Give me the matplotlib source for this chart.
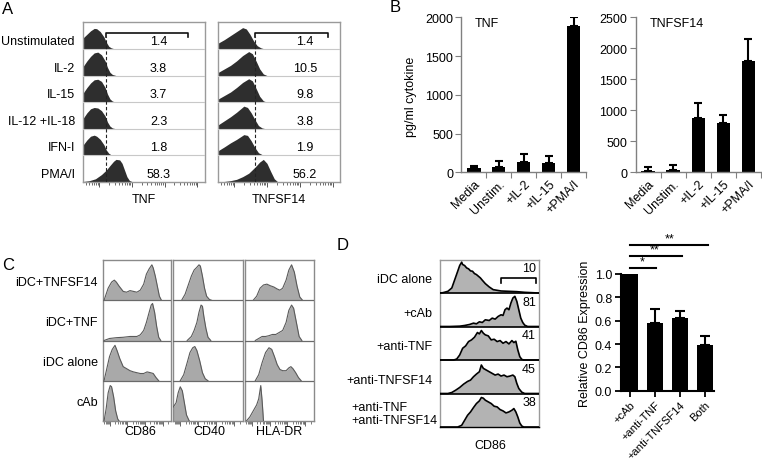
import matplotlib
matplotlib.use('Agg')
import matplotlib.pyplot as plt
import numpy as np

plt.rcParams['font.family'] = ['Liberation Sans', 'DejaVu Sans']

# ---------------- DATA ----------------
# Panel A
a_rows = ['Unstimulated', 'IL-2', 'IL-15', 'IL-12 +IL-18', 'IFN-I', 'PMA/I']
a_tnf_pct = ['1.4', '3.8', '3.7', '2.3', '1.8', '58.3']
a_lig_pct = ['1.4', '10.5', '9.8', '3.8', '1.9', '56.2']
a_tnf_x = [
    [0, .03, .06, .09, .11, .14, .17, .19, .21, .23, .26],
    [0, .03, .06, .09, .12, .15, .18, .20, .22, .24, .27],
    [0, .03, .06, .09, .12, .15, .18, .20, .22, .24, .27],
    [0, .03, .06, .09, .12, .15, .18, .20, .22, .24, .27],
    [0, .03, .06, .09, .11, .14, .17, .19, .21, .23, .26],
    [0, .05, .10, .15, .19, .22, .25, .27, .30, .32, .34, .36, .38, .41],
]
a_tnf_y = [
    [.42, .55, .68, .77, .76, .65, .45, .25, .10, .04, 0],
    [.35, .55, .72, .85, .88, .78, .55, .30, .12, .04, 0],
    [.35, .55, .72, .84, .86, .78, .55, .30, .12, .04, 0],
    [.40, .60, .75, .80, .78, .68, .48, .25, .10, .03, 0],
    [.40, .58, .72, .76, .72, .60, .40, .20, .08, .02, 0],
    [.02, .05, .12, .28, .45, .62, .78, .85, .83, .70, .45, .20, .06, 0],
]
a_lig_x = [
    [0, .05, .10, .15, .20, .23, .26, .29, .32, .35, .38],
    [0, .05, .10, .15, .20, .25, .28, .31, .34, .37, .40],
    [0, .05, .10, .15, .20, .25, .28, .31, .34, .37, .40],
    [0, .05, .10, .15, .21, .24, .27, .30, .33, .36, .39],
    [0, .05, .10, .15, .21, .24, .27, .30, .33, .36, .39],
    [0, .05, .10, .15, .20, .25, .30, .34, .37, .40, .43, .46, .49],
]
a_lig_y = [
    [.22, .35, .50, .65, .80, .75, .55, .30, .12, .04, 0],
    [.12, .25, .38, .55, .75, .90, .82, .55, .25, .06, 0],
    [.12, .25, .38, .55, .74, .88, .80, .52, .22, .05, 0],
    [.15, .30, .45, .62, .85, .80, .60, .35, .12, .03, 0],
    [.18, .32, .47, .60, .78, .75, .55, .30, .10, .03, 0],
    [0, .02, .05, .10, .20, .33, .55, .75, .85, .70, .40, .12, 0],
]

# Panel B
b_cats = ['Media', 'Unstim.', '+IL-2', '+IL-15', '+PMA/I']
b_tnf = [56, 65, 138, 125, 1890]
b_tnf_err = [21, 85, 98, 90, 120]
b_lig = [25, 35, 880, 790, 1790]
b_lig_err = [55, 85, 230, 130, 355]

# Panel C
c_rows = ['iDC+TNFSF14', 'iDC+TNF', 'iDC alone', 'cAb']
c_cols = ['CD86', 'CD40', 'HLA-DR']
c_x = {
    'CD86': [
        [.02, .08, .13, .17, .20, .24, .30, .35, .40, .45, .50, .55, .60, .64, .68, .72, .74, .77, .80, .83, .86],
        [.02, .10, .20, .30, .40, .50, .55, .60, .64, .68, .71, .73, .76, .79, .82, .85],
        [.02, .06, .10, .14, .18, .21, .25, .30, .35, .40, .45, .50, .55, .60, .65, .70, .74, .78, .82],
        [.02, .05, .08, .11, .13, .16, .19, .22, .24],
    ],
    'CD40': [
        [.12, .17, .22, .26, .30, .34, .37, .39, .42, .45, .48, .52, .55],
        [.20, .26, .30, .34, .37, .40, .42, .44, .47, .50, .54],
        [.10, .15, .20, .24, .28, .31, .34, .38, .42, .46, .50],
        [0, .04, .07, .10, .13, .16, .19, .23],
    ],
    'HLA-DR': [
        [.12, .17, .22, .27, .32, .37, .42, .47, .51, .55, .60, .64, .68, .72, .76, .80, .84],
        [.15, .20, .25, .30, .35, .40, .45, .50, .55, .60, .64, .68, .71, .75, .79, .83],
        [.15, .20, .25, .30, .35, .39, .43, .47, .51, .55, .60, .64, .67, .70, .74, .78, .82],
        [.02, .07, .12, .17, .20, .23, .25, .27],
    ],
}
c_y = {
    'CD86': [
        [0, .30, .45, .50, .45, .35, .22, .20, .24, .22, .20, .25, .40, .65, .78, .88, .80, .60, .35, .10, 0],
        [0, .05, .07, .08, .10, .10, .14, .25, .45, .70, .88, .92, .70, .35, .08, 0],
        [0, .30, .60, .78, .88, .75, .55, .35, .30, .25, .22, .20, .18, .18, .22, .20, .18, .08, 0],
        [0, .30, .70, .88, .85, .60, .25, .05, 0],
    ],
    'CD40': [
        [0, .15, .40, .60, .75, .82, .88, .85, .60, .30, .10, .02, 0],
        [0, .10, .25, .45, .70, .88, .85, .60, .30, .08, 0],
        [0, .15, .45, .70, .82, .85, .75, .50, .20, .05, 0],
        [.35, .45, .70, .85, .75, .45, .15, 0],
    ],
    'HLA-DR': [
        [0, .10, .30, .38, .40, .36, .33, .28, .25, .30, .50, .75, .88, .70, .35, .08, 0],
        [0, .05, .10, .10, .12, .15, .15, .20, .25, .45, .75, .88, .80, .45, .10, 0],
        [0, .15, .45, .70, .82, .78, .60, .40, .28, .25, .25, .32, .35, .30, .20, .08, 0],
        [0, .10, .25, .40, .55, .88, .50, 0],
    ],
}

# Panel D (histograms)
d_rows = ['iDC alone', '+cAb', '+anti-TNF', '+anti-TNFSF14', '+anti-TNF\n+anti-TNFSF14']
d_pct = ['10', '81', '41', '45', '38']
d_x = [
    [0, .03, .08, .12, .15, .18, .20, .22, .23, .25, .27, .29, .31, .33, .35, .37, .39, .41, .43, .46, .50, .54, .58, .62, .70, .78, .86, .93, 1],
    [0, .10, .20, .25, .30, .34, .37, .40, .43, .46, .50, .53, .56, .59, .62, .64, .66, .68, .70, .72, .74, .76, .78, .80, .82, .84, .86, .89, 1],
    [0, .14, .17, .20, .23, .26, .29, .32, .35, .38, .40, .42, .44, .46, .49, .52, .55, .58, .61, .64, .67, .70, .73, .75, .77, .79, .81, .83, .85, 1],
    [0, .08, .12, .16, .20, .24, .28, .31, .34, .37, .40, .42, .44, .47, .50, .53, .56, .59, .62, .65, .68, .71, .74, .76, .78, .80, .83, .86, 1],
    [0, .18, .22, .25, .28, .31, .34, .37, .40, .42, .44, .46, .49, .52, .55, .58, .61, .64, .67, .70, .73, .75, .77, .79, .81, .83, .85, 1],
]
d_y = [
    [0, .01, .05, .15, .40, .65, .82, .92, .85, .82, .75, .72, .66, .65, .58, .55, .50, .45, .38, .28, .18, .10, .08, .06, .05, .04, .02, .01, 0],
    [0, 0, .01, .03, .06, .10, .08, .14, .12, .20, .18, .25, .22, .30, .35, .33, .50, .55, .50, .70, .85, .90, .75, .50, .25, .12, .04, 0, 0],
    [0, 0, .03, .15, .35, .42, .55, .60, .68, .82, .78, .88, .80, .75, .72, .60, .62, .55, .58, .50, .55, .48, .58, .52, .56, .30, .10, .02, 0, 0],
    [0, 0, .03, .10, .18, .28, .36, .40, .50, .58, .65, .85, .75, .70, .65, .60, .55, .58, .52, .55, .50, .52, .55, .50, .30, .15, .04, 0, 0],
    [0, 0, .05, .20, .35, .45, .58, .70, .78, .88, .86, .80, .75, .70, .62, .60, .52, .48, .42, .45, .50, .55, .45, .30, .12, .03, 0, 0],
]

# Panel D (bars)
d_cats = ['+cAb', '+anti-TNF', '+anti-TNFSF14', 'Both']
d_vals = [1.0, 0.58, 0.62, 0.39]
d_err = [0.0, 0.12, 0.065, 0.08]
d_sig_end = [1.05, 2.1, 3.12]
d_sig_y = [1.05, 1.15, 1.25]
d_sig_lab = ['*', '**', '**']

# ---------------- FIGURE ----------------
W, H = 762, 460
fig = plt.figure(figsize=(W / 100, H / 100), dpi=100)


def px_axes(x0, y0, x1, y1):
    return fig.add_axes([x0 / W, 1 - y1 / H, (x1 - x0) / W, (y1 - y0) / H])


def ftext(x, y, s, **kw):
    return fig.text(x / W, 1 - y / H, s, **kw)


FS = 9


def log_ticks(ax, start, dec, color='#555'):
    major, minor = [], []
    k = -1
    while True:
        d0 = start + k * dec
        if d0 > 1:
            break
        if 0 <= d0 <= 1:
            major.append(d0)
        for m in range(2, 10):
            p = d0 + np.log10(m) * dec
            if 0 <= p <= 1:
                minor.append(p)
        k += 1
    ax.set_xticks(major)
    ax.set_xticks(minor, minor=True)
    ax.set_xticklabels([])
    ax.tick_params(axis='x', which='major', length=3.5, width=0.7, color=color, direction='out')
    ax.tick_params(axis='x', which='minor', length=2, width=0.6, color=color, direction='out')
    ax.set_yticks([])


def hist_panel(ax, xs_list, ys_list, face, edge, elw, sep_color, sep_lw, frame_color):
    n = len(xs_list)
    ax.set_xlim(0, 1)
    ax.set_ylim(0, n)
    for i, (xs, ys) in enumerate(zip(xs_list, ys_list)):
        base = n - 1 - i
        xs = np.asarray(xs, float)
        ys = np.asarray(ys, float)
        ax.fill_between(xs, base, base + ys, color=face, lw=0, zorder=2)
        if edge is not None:
            ax.plot(xs, base + ys, color=edge, lw=elw, zorder=3, solid_joinstyle='round')
    for b in range(1, n):
        ax.axhline(b, color=sep_color, lw=sep_lw, zorder=4)
    for s in ax.spines.values():
        s.set_color(frame_color)
        s.set_linewidth(1.0)


# ---------- Panel A ----------
ftext(2, 9, 'A', fontsize=12, va='center', ha='left')
a_top, a_bot = 23.3, 183
a_rh = (a_bot - a_top) / 6
for (x0, x1, xs, ys, pcts, dash_x, br, num_x, lab) in [
        (83.3, 204.5, a_tnf_x, a_tnf_y, a_tnf_pct, 0.19, (0.19, 0.86), 0.62, 'TNF'),
        (218.3, 340, a_lig_x, a_lig_y, a_lig_pct, 0.30, (0.30, 0.90), 0.71, 'TNFSF14')]:
    ax = px_axes(x0, a_top, x1, a_bot)
    hist_panel(ax, xs, ys, '#2e2e2e', None, 0, '#c8c8c8', 0.8, '#9a9a9a')
    log_ticks(ax, 0.13, 0.27)
    ax.plot([dash_x, dash_x], [0, 5.45], color='#222', lw=0.8, ls=(0, (3, 2)), zorder=5)
    ax.plot([br[0], br[0], br[1], br[1]], [5.45, 5.6, 5.6, 5.45], color='#111', lw=1.2, zorder=5)
    for i, p in enumerate(pcts):
        ax.text(num_x, 6 - 1 - i + 0.3, p, ha='center', va='center', fontsize=FS, zorder=6)
    ftext((x0 + x1) / 2, 200, lab, ha='center', va='center', fontsize=FS)
for i, lab in enumerate(a_rows):
    ftext(75, a_top + (i + 1 - 0.3) * a_rh, lab, ha='right', va='center', fontsize=FS)

# ---------- Panel B ----------
ftext(390, 8, 'B', fontsize=12, va='center', ha='left')
for (x0, x1, vals, errs, ymax, step, title, tx) in [
        (461.5, 586, b_tnf, b_tnf_err, 2000, 500, 'TNF', 475),
        (635.5, 761, b_lig, b_lig_err, 2500, 500, 'TNFSF14', 650)]:
    ax = px_axes(x0, 18.3, x1, 173.3)
    xpos = np.arange(len(b_cats))
    ax.bar(xpos, vals, width=0.53, color='black', zorder=2)
    ax.errorbar(xpos, vals, yerr=[np.zeros(len(vals)), errs], fmt='none', ecolor='black',
                elinewidth=1.5, capsize=3, capthick=1.5, zorder=3)
    ax.set_xlim(-0.5, len(b_cats) - 0.5)
    ax.set_ylim(0, ymax)
    ax.set_yticks(np.arange(0, ymax + 1, step))
    ax.set_yticklabels([str(v) for v in range(0, ymax + 1, step)], fontsize=FS)
    ax.set_xticks(xpos)
    ax.set_xticklabels(b_cats, rotation=45, ha='right', rotation_mode='anchor', fontsize=FS)
    ax.set_xticks(np.arange(0.5, len(b_cats), 1.0), minor=True)
    ax.tick_params(axis='x', which='major', length=0, pad=4)
    ax.tick_params(axis='x', which='minor', length=4, width=0.8, color='#808080', direction='out')
    ax.tick_params(axis='y', length=4, width=0.8, color='#808080', direction='out', pad=2)
    for s in ['top', 'right']:
        ax.spines[s].set_visible(False)
    for s in ['left', 'bottom']:
        ax.spines[s].set_color('#808080')
        ax.spines[s].set_linewidth(1.0)
    ax.text((tx - x0) / (x1 - x0), 0.965, title, transform=ax.transAxes, ha='left', va='center', fontsize=FS)
    if title == 'TNF':
        ftext(411, 97, 'pg/ml cytokine', rotation=90, ha='center', va='center', fontsize=FS)

# ---------- Panel C ----------
ftext(2, 265, 'C', fontsize=12, va='center', ha='left')
c_top, c_bot = 261, 422
c_rh = (c_bot - c_top) / 4
c_geo = [(102.7, 171.0), (173.3, 242.7), (245.0, 313.5)]
c_lab_x = [140, 209, 279]
for j, col in enumerate(c_cols):
    x0, x1 = c_geo[j]
    ax = px_axes(x0, c_top, x1, c_bot)
    hist_panel(ax, c_x[col], c_y[col], '#a9a9a9', '#5a5a5a', 0.8, '#6a6a6a', 0.9, '#8a8a8a')
    log_ticks(ax, 0.1, 0.26, color='#666')
    ftext(c_lab_x[j], 432, col, ha='center', va='center', fontsize=FS)
for i, lab in enumerate(c_rows):
    ftext(98, c_top + (i + 0.5) * c_rh + 1.5, lab, ha='right', va='center', fontsize=FS)

# ---------- Panel D ----------
ftext(337, 246, 'D', fontsize=12, va='center', ha='left')
d_top, d_bot = 260.5, 428
d_rh = (d_bot - d_top) / 5
ax = px_axes(440, d_top, 538.5, d_bot)
hist_panel(ax, d_x, d_y, '#b3b3b3', 'black', 1.2, 'black', 1.2, '#9a9a9a')
ax.spines['bottom'].set_color('black')
ax.set_xticks([])
ax.set_yticks([])
ax.plot([0.62, 0.62, 0.97, 0.97], [4.31, 4.45, 4.45, 4.31], color='black', lw=1.2, zorder=5)
for i, p in enumerate(d_pct):
    ax.text(0.975, 5 - 1 - i + 0.74, p, ha='right', va='center', fontsize=FS, zorder=6)
ftext(490, 446, 'CD86', ha='center', va='center', fontsize=FS)
for i, lab in enumerate(d_rows):
    yc = d_top + (i + 0.5) * d_rh + 3
    if '\n' in lab:
        ftext(437, yc, lab, ha='right', va='center', fontsize=FS, multialignment='left', linespacing=1.1)
    else:
        ftext(432, yc, lab, ha='right', va='center', fontsize=FS)

# D bar chart
ax = px_axes(620.7, 275, 713.5, 391.7)
xpos = np.arange(len(d_cats))
ax.bar(xpos, d_vals, width=0.67, color='black', zorder=2)
ax.errorbar(xpos[1:], d_vals[1:], yerr=[np.zeros(3), d_err[1:]], fmt='none', ecolor='black',
            elinewidth=1.5, capsize=3.5, capthick=1.5, zorder=3)
ax.set_xlim(-0.37, 3.34)
ax.set_ylim(0, 1.0)
ax.set_yticks(np.arange(0, 1.01, 0.2))
ax.set_yticklabels(['%.1f' % v for v in np.arange(0, 1.01, 0.2)], fontsize=FS)
ax.set_xticks(xpos)
ax.set_xticklabels(d_cats, rotation=45, ha='right', rotation_mode='anchor', fontsize=8)
ax.tick_params(axis='both', length=4, width=1.3, direction='out', pad=2)
for s in ['top', 'right']:
    ax.spines[s].set_visible(False)
for s in ['left', 'bottom']:
    ax.spines[s].set_linewidth(1.5)
ax.set_ylabel('Relative CD86 Expression', fontsize=FS, labelpad=3)
star_x = [0.5, 1.0, 1.6]
for xb, yy, star, sx in zip(d_sig_end, d_sig_y, d_sig_lab, star_x):
    ax.plot([0, xb], [yy, yy], color='black', lw=1.5, clip_on=False)
    ax.text(sx, yy + 0.005, star, ha='center', va='bottom', fontsize=FS, clip_on=False)

fig.savefig('out.png', dpi=100)
